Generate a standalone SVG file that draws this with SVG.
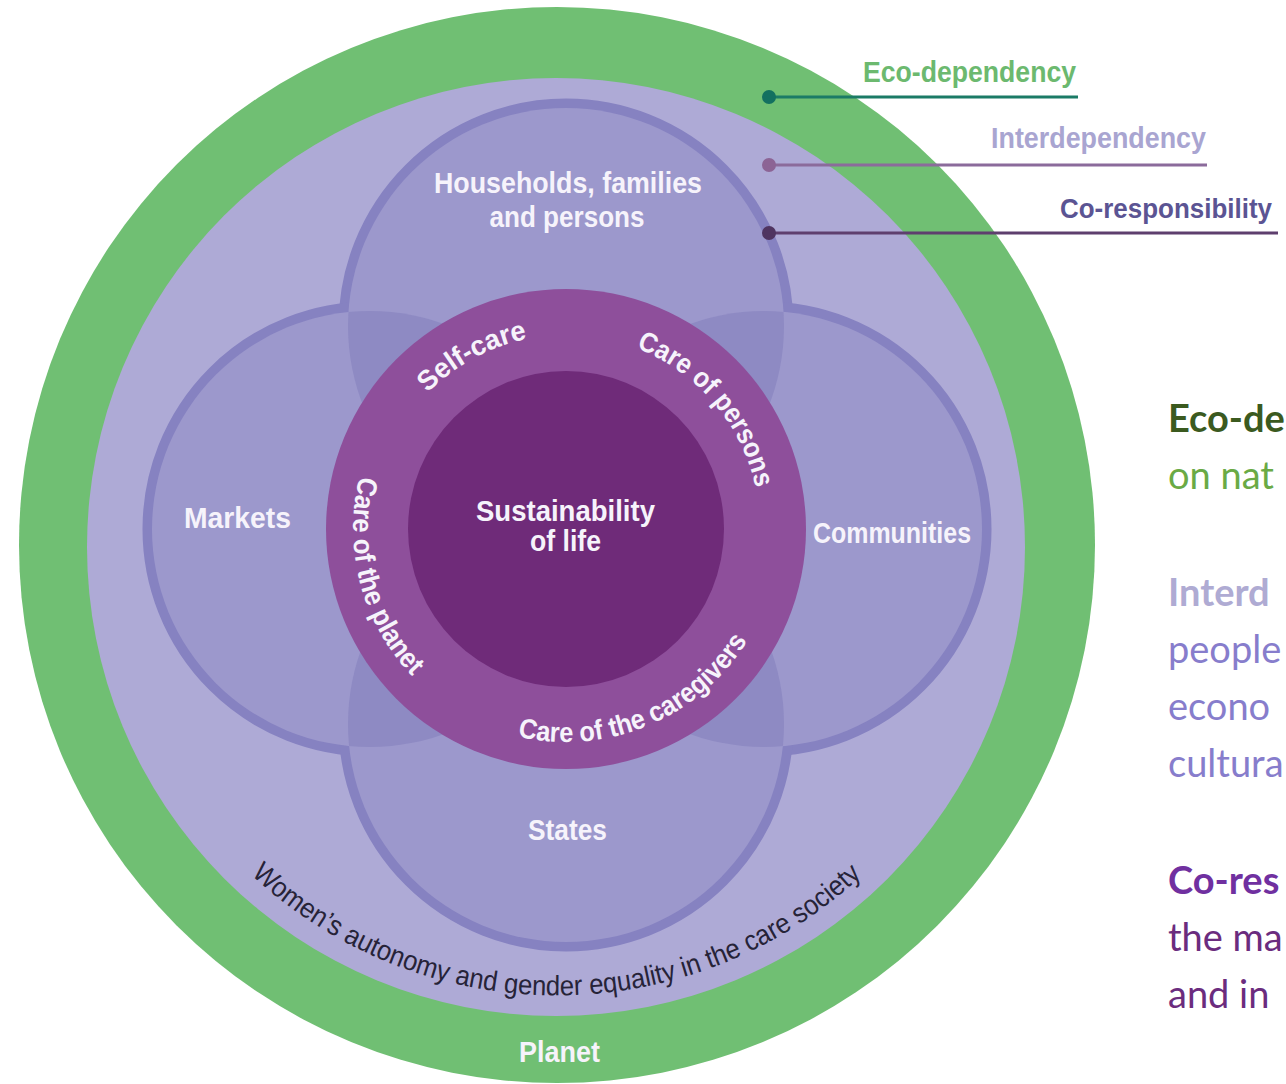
<svg xmlns="http://www.w3.org/2000/svg" width="1286" height="1084" viewBox="0 0 1286 1084">
<style>
.cond{font-family:"Liberation Sans",Arial,sans-serif;font-weight:bold;}
.wl{fill:#f6f3fb;font-size:29px;}
.ring{fill:#f6f3fb;font-size:28px;}
.body{font-family:Lato,"Open Sans",sans-serif;font-size:38px;}
.petal{fill:#9c98cc;}
.pstroke{fill:none;stroke:#8682c1;stroke-width:19;}
.ovl{fill:#8e8ac3;}
</style>
<defs>
<clipPath id="clipH"><circle cx="566" cy="326" r="218"/></clipPath>
<clipPath id="clipS"><circle cx="566" cy="724" r="218"/></clipPath>
<path id="pSelf" d="M388.1,606.3 A194,194 0 0 1 727.8,421.9"/>
<path id="pPersons" d="M453.3,371.1 A194,194 0 0 1 704.4,665.0"/>
<path id="pPlanet" d="M500.2,326.4 A213,213 0 0 0 595.6,739.9"/>
<path id="pGivers" d="M377.2,627.7 A213,213 0 0 0 769.0,464.6"/>
<path id="pWomen" d="M110.3,581.4 A448,448 0 0 0 1002.9,590.7"/>
</defs>
<g id="planet">
<circle cx="557" cy="545" r="538" fill="#70bf73"/>
<text class="cond wl" x="559.5" y="1062" text-anchor="middle" textLength="81" lengthAdjust="spacingAndGlyphs">Planet</text>
</g>
<g id="care-society">
<circle cx="556" cy="547" r="469" fill="#aeaad6"/>
<text font-family="Liberation Sans, Arial, sans-serif" font-size="28" fill="#262338"><textPath href="#pWomen" startOffset="50.3%" text-anchor="middle" textLength="672" lengthAdjust="spacingAndGlyphs">Women’s autonomy and gender equality in the care society</textPath></text>
</g>
<g id="petal-outlines">
<circle class="pstroke" cx="566" cy="326" r="218"/>
<circle class="pstroke" cx="370" cy="529" r="218"/>
<circle class="pstroke" cx="764" cy="529" r="218"/>
<circle class="pstroke" cx="566" cy="724" r="218"/>
</g>
<g id="households">
<circle class="petal" cx="566" cy="326" r="218"/>
<text class="cond wl" x="568" y="193" text-anchor="middle" textLength="268" lengthAdjust="spacingAndGlyphs">Households, families</text>
<text class="cond wl" x="567" y="227" text-anchor="middle" textLength="155" lengthAdjust="spacingAndGlyphs">and persons</text>
</g>
<g id="markets">
<circle class="petal" cx="370" cy="529" r="218"/>
<text class="cond wl" x="237.5" y="528" text-anchor="middle" textLength="107" lengthAdjust="spacingAndGlyphs">Markets</text>
</g>
<g id="communities">
<circle class="petal" cx="764" cy="529" r="218"/>
<text class="cond wl" x="892" y="543" text-anchor="middle" textLength="158" lengthAdjust="spacingAndGlyphs">Communities</text>
</g>
<g id="states">
<circle class="petal" cx="566" cy="724" r="218"/>
<text class="cond wl" x="567.5" y="840" text-anchor="middle" textLength="79" lengthAdjust="spacingAndGlyphs">States</text>
</g>
<g id="overlaps">
<circle class="ovl" cx="370" cy="529" r="218" clip-path="url(#clipH)"/>
<circle class="ovl" cx="764" cy="529" r="218" clip-path="url(#clipH)"/>
<circle class="ovl" cx="370" cy="529" r="218" clip-path="url(#clipS)"/>
<circle class="ovl" cx="764" cy="529" r="218" clip-path="url(#clipS)"/>
</g>
<g id="care-ring">
<circle cx="566" cy="529" r="240" fill="#8e4f9b"/>
<text class="cond ring"><textPath href="#pSelf" startOffset="50%" text-anchor="middle" textLength="115" lengthAdjust="spacingAndGlyphs">Self-care</textPath></text>
<text class="cond ring"><textPath href="#pPersons" startOffset="50%" text-anchor="middle" textLength="192" lengthAdjust="spacingAndGlyphs">Care of persons</textPath></text>
<text class="cond ring"><textPath href="#pPlanet" startOffset="51%" text-anchor="middle" textLength="216" lengthAdjust="spacingAndGlyphs">Care of the planet</textPath></text>
<text class="cond ring"><textPath href="#pGivers" startOffset="50%" text-anchor="middle" textLength="266" lengthAdjust="spacingAndGlyphs">Care of the caregivers</textPath></text>
</g>
<g id="sustainability">
<circle cx="566" cy="529" r="158" fill="#6f2b79"/>
<text class="cond wl" x="565.5" y="521" text-anchor="middle" textLength="179" lengthAdjust="spacingAndGlyphs">Sustainability</text>
<text class="cond wl" x="565.5" y="551" text-anchor="middle" textLength="71" lengthAdjust="spacingAndGlyphs">of life</text>
</g>
<g id="connectors">
<line x1="769" y1="97" x2="1078" y2="97" stroke="#1b7b66" stroke-width="3"/>
<circle cx="769" cy="97" r="7" fill="#137060"/>
<line x1="769" y1="165" x2="1207" y2="165" stroke="#8b6b9b" stroke-width="3"/>
<circle cx="769" cy="165" r="7" fill="#8c6495"/>
<line x1="769" y1="233" x2="1278" y2="233" stroke="#5e3f6e" stroke-width="3"/>
<circle cx="769" cy="233" r="7" fill="#4f3460"/>
</g>
<g id="label-eco">
<text class="cond" x="1076" y="82" font-size="30" fill="#6cb96f" text-anchor="end" textLength="213" lengthAdjust="spacingAndGlyphs">Eco-dependency</text>
</g>
<g id="label-inter">
<text class="cond" x="1206" y="148" font-size="30" fill="#a9a5d1" text-anchor="end" textLength="215" lengthAdjust="spacingAndGlyphs">Interdependency</text>
</g>
<g id="label-co">
<text class="cond" x="1272" y="218" font-size="27" fill="#5b5493" text-anchor="end" textLength="212" lengthAdjust="spacingAndGlyphs">Co-responsibility</text>
</g>
<g id="notes">
<text class="body" x="1168" y="432" font-weight="bold" fill="#3b5a1f">Eco-de</text>
<text class="body" x="1168" y="489" fill="#6aaa45">on nat</text>
<text class="body" x="1168" y="606" font-weight="bold" fill="#afabd3">Interd</text>
<text class="body" x="1168" y="663" fill="#877dcc">people</text>
<text class="body" x="1168" y="720" fill="#877dcc">econo</text>
<text class="body" x="1168" y="777" fill="#877dcc">cultura</text>
<text class="body" x="1168" y="894" font-weight="bold" fill="#7030a0">Co-res</text>
<text class="body" x="1168" y="951" fill="#6b2c7e">the ma</text>
<text class="body" x="1168" y="1008" fill="#6b2c7e">and in</text>
</g>
</svg>
